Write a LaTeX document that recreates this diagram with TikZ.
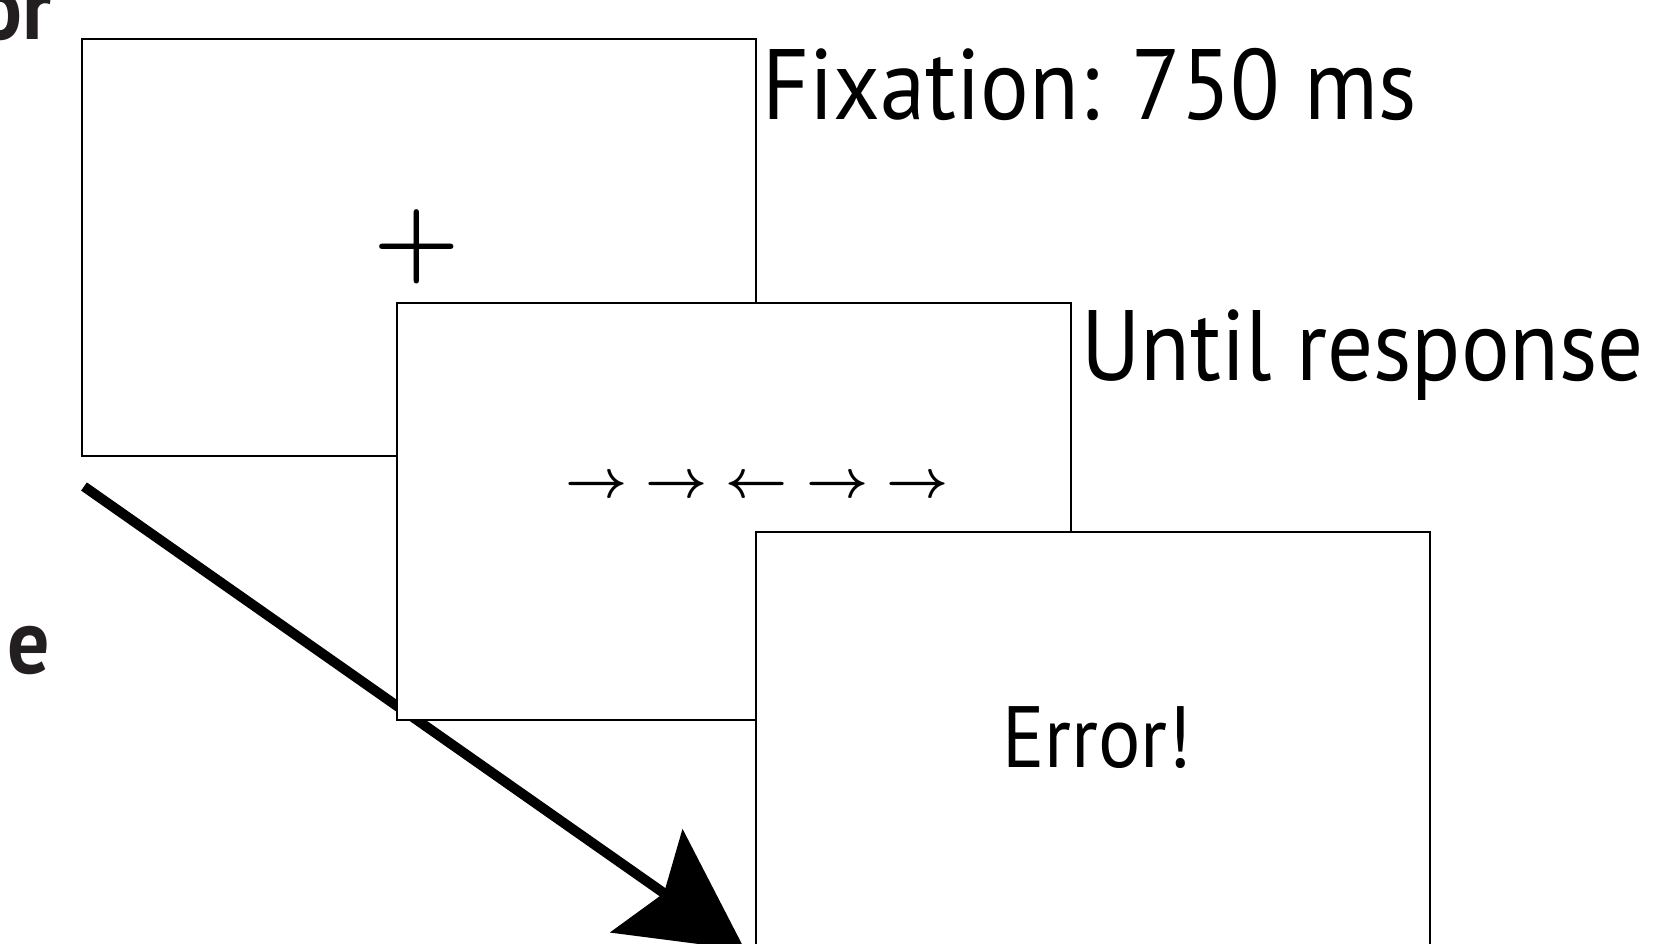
\RequirePackage{fix-cm}
\documentclass[tikz,border=0pt]{standalone}
\usepackage{fontspec}
\setmainfont{PT Sans}[FakeStretch=0.91]
\usepackage{xcolor}
\usepackage{tikz}
\usetikzlibrary{arrows.meta, positioning}
\definecolor{inkgray}{RGB}{35,31,32}
\tikzset{
  screen/.style={
    rectangle, draw=black, line width=2.3pt, fill=white,
    minimum width=674pt, minimum height=417pt, inner sep=0pt
  },
  timing/.style={anchor=base west, inner sep=0pt, font=\fontsize{100}{110}\selectfont},
  stim/.style={inner sep=0pt},
  timeline/.style={draw, line width=10pt, -{Stealth[length=120pt, width=125pt, inset=21pt]}},
  cutoff/.style={anchor=base east, inner sep=0pt, text=inkgray, font=\fontsize{92}{100}\selectfont\bfseries},
}
\newcommand{\flankgap}{\hspace{18pt}}

\begin{document}
\begin{tikzpicture}[x=1pt, y=-1pt]
  \useasboundingbox (0,0) rectangle (1672,943);
  \clip (0,0) rectangle (1672,943);

  % words cut off at the left edge
  \node[cutoff] (cutA) at (52,39) {or};
  \node[cutoff] (cutB) at (50,673) {e};

  % fixation screen
  \node[screen] (fix) at (419.25,247.25) {};
  \node[stim, font=\fontsize{99}{100}\selectfont\boldmath] (cross) at (417,246.5) {$+$};
  \node[timing] (fixlab) at (762,119) {Fixation: 750 ms};

  \coordinate (tstart) at (84,486.5);
  \coordinate (tend) at (745,950);
  \draw[timeline] (tstart) -- (tend);

  % flanker screen
  \node[screen] (flanker) at (733.7,511.35) {};
  \node[stim, font=\fontsize{54}{60}\selectfont\boldmath] (arrows) at (757,487)
    {$\rightarrow$\flankgap$\rightarrow$\flankgap$\leftarrow$\flankgap$\rightarrow$\flankgap$\rightarrow$};
  \node[timing] (resplab) at (1081,380.5) {Until response};

  % feedback screen
  \node[screen] (feedback) at (1093,740.75) {};
  \node[stim, anchor=base, font=\fontsize{87}{90}\selectfont] (err) at (1097,767) {Error!};
\end{tikzpicture}
\end{document}
